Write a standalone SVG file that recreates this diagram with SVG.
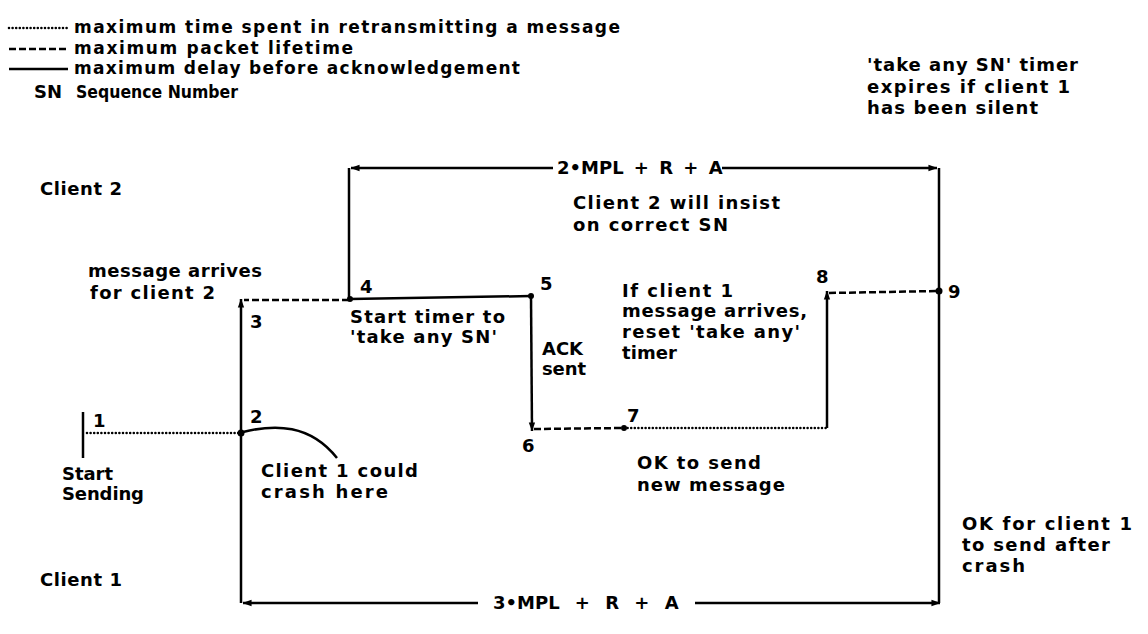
<svg xmlns="http://www.w3.org/2000/svg" width="1148" height="634" viewBox="0 0 1148 634">
<defs>
<style>
text{font-family:"DejaVu Sans","Liberation Sans",sans-serif;font-weight:bold;fill:#000}
.t{font-size:18px}
.lg{font-size:17px}
.n{font-size:18px}
.s{fill:none;stroke:#000;stroke-width:2.5}
.da{fill:none;stroke:#000;stroke-width:2.5;stroke-dasharray:7 3}
.do{fill:none;stroke:#000;stroke-width:2.6;stroke-dasharray:0 3.6;stroke-linecap:round}
.dot{fill:#000}
</style>
<marker id="ah" viewBox="0 0 10 10" refX="9.5" refY="5" markerWidth="9" markerHeight="9" markerUnits="userSpaceOnUse" orient="auto">
<path d="M0,1.5 L10,5 L0,8.5 z" fill="#000"/>
</marker>
</defs>
<rect width="1148" height="634" fill="#fff"/>

<g id="legend">
<line class="do" x1="9" y1="28" x2="68" y2="28"/>
<text class="lg" x="74" y="33" textLength="546">maximum time spent in retransmitting a message</text>
<line class="da" x1="9" y1="49" x2="68" y2="49"/>
<text class="lg" x="74" y="54" textLength="279">maximum packet lifetime</text>
<line class="s" x1="9" y1="69" x2="68" y2="69"/>
<text class="lg" x="74" y="74" textLength="446">maximum delay before acknowledgement</text>
<text class="lg" x="34" y="98" textLength="28" lengthAdjust="spacingAndGlyphs">SN</text>
<text class="lg" x="76" y="98" textLength="162" lengthAdjust="spacingAndGlyphs">Sequence Number</text>
</g>

<g id="note-timer">
<text class="t" x="867" y="71" textLength="211">'take any SN' timer</text>
<text class="t" x="867" y="93" textLength="203">expires if client 1</text>
<text class="t" x="867" y="114" textLength="171">has been silent</text>
</g>

<g id="connectors">
<line class="s" x1="553" y1="168" x2="351" y2="168" marker-end="url(#ah)"/>
<line class="s" x1="722" y1="168" x2="937" y2="168" marker-end="url(#ah)"/>
<line class="s" x1="349" y1="168" x2="349" y2="300"/>
<line class="s" x1="939" y1="168" x2="939" y2="603"/>
<line class="da" x1="349" y1="300" x2="244" y2="300"/>
<line class="s" x1="350" y1="299" x2="531" y2="296"/>
<line class="s" x1="241" y1="603" x2="241" y2="299" marker-end="url(#ah)"/>
<line class="s" x1="531" y1="296" x2="532" y2="431" marker-end="url(#ah)"/>
<line class="da" x1="534" y1="429" x2="624" y2="428"/>
<line class="do" x1="624" y1="428" x2="827" y2="428"/>
<line class="s" x1="827" y1="428" x2="827" y2="291" marker-end="url(#ah)"/>
<line class="da" x1="829" y1="293" x2="938" y2="291"/>
<line class="s" x1="83" y1="412" x2="83" y2="458"/>
<line class="do" x1="87" y1="433" x2="240" y2="433"/>
<path class="s" d="M243,432 C275,424 310,424 337,458"/>
<line class="s" x1="478" y1="603" x2="243" y2="603" marker-end="url(#ah)"/>
<line class="s" x1="695" y1="603" x2="940" y2="603" marker-end="url(#ah)"/>
<circle class="dot" cx="241" cy="433" r="3.5"/>
<circle class="dot" cx="350" cy="299" r="3"/>
<circle class="dot" cx="531" cy="296" r="3"/>
<circle class="dot" cx="624" cy="428" r="3"/>
<circle class="dot" cx="939" cy="291" r="3.5"/>
</g>

<g id="label-top"><text class="t" x="557" y="174" word-spacing="4">2•MPL + R + A</text></g>
<g id="label-bottom"><text class="t" x="493" y="609" word-spacing="9">3•MPL + R + A</text></g>

<g id="client2"><text class="t" x="40" y="195" textLength="82">Client 2</text></g>
<g id="client1"><text class="t" x="40" y="586" textLength="82">Client 1</text></g>

<g id="insist">
<text class="t" x="573" y="209" textLength="207">Client 2 will insist</text>
<text class="t" x="573" y="231" textLength="155">on correct SN</text>
</g>

<g id="node1">
<text class="n" x="93" y="427">1</text>
<text class="t" x="62" y="480" textLength="51">Start</text>
<text class="t" x="62" y="500" textLength="82">Sending</text>
</g>

<g id="node2">
<text class="n" x="250" y="423">2</text>
<text class="t" x="261" y="477" textLength="157">Client 1 could</text>
<text class="t" x="261" y="498" textLength="127">crash here</text>
</g>

<g id="node3">
<text class="n" x="250" y="328">3</text>
<text class="t" x="88" y="277" textLength="174">message arrives</text>
<text class="t" x="90" y="299" textLength="125">for client 2</text>
</g>

<g id="node4">
<text class="n" x="360" y="293">4</text>
<text class="t" x="350" y="323" textLength="155">Start timer to</text>
<text class="t" x="350" y="343" textLength="147">'take any SN'</text>
</g>

<g id="node5">
<text class="n" x="540" y="290">5</text>
<text class="t" x="542" y="355" textLength="41" lengthAdjust="spacingAndGlyphs">ACK</text>
<text class="t" x="542" y="375" textLength="44">sent</text>
</g>

<g id="node6">
<text class="n" x="522" y="452">6</text>
</g>

<g id="node7">
<text class="n" x="627" y="422">7</text>
<text class="t" x="637" y="469" textLength="124">OK to send</text>
<text class="t" x="637" y="491" textLength="148">new message</text>
</g>

<g id="node8">
<text class="n" x="816" y="283">8</text>
<text class="t" x="622" y="297" textLength="111">If client 1</text>
<text class="t" x="622" y="317" textLength="185">message arrives,</text>
<text class="t" x="622" y="338" textLength="178">reset 'take any'</text>
<text class="t" x="622" y="359" textLength="55">timer</text>
</g>

<g id="node9">
<text class="n" x="948" y="298">9</text>
<text class="t" x="962" y="530" textLength="170">OK for client 1</text>
<text class="t" x="962" y="551" textLength="148">to send after</text>
<text class="t" x="962" y="572" textLength="63">crash</text>
</g>
</svg>
